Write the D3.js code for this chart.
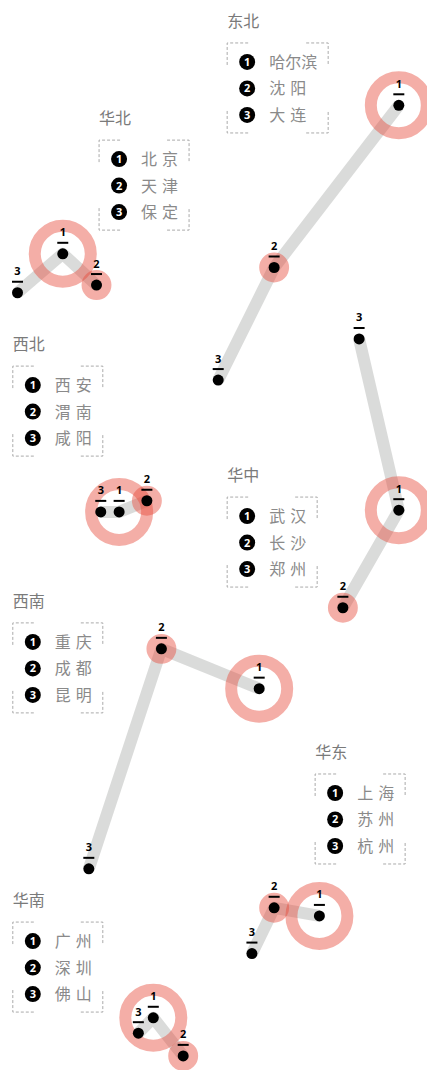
<!DOCTYPE html>
<html>
<head>
<meta charset="utf-8">
<script src="https://cdn.jsdelivr.net/npm/d3@7"></script>
<style>
html,body{margin:0;padding:0;background:#fff;}
svg{display:block;}
</style>
</head>
<body>
<div id="chart"></div>
<script>
// ---- data ----
const regions = ["东北","华北","西北","华中","西南","华东","华南"];
const cityNames = [
  ["哈尔滨","沈阳","大连"],
  ["北京","天津","保定"],
  ["西安","渭南","咸阳"],
  ["武汉","长沙","郑州"],
  ["重庆","成都","昆明"],
  ["上海","苏州","杭州"],
  ["广州","深圳","佛山"]
];
// positions of the three cities of each region (abstract units)
const cityX = [
  [93.4,64.2,51.1],
  [14.7,22.6,4.1],
  [27.9,34.4,23.6],
  [93.4,80.3,84.1],
  [60.7,37.8,20.8],
  [74.8,64.2,59.0],
  [35.9,42.9,32.4]
];
const cityY = [
  [24.6,62.5,88.8],
  [59.3,66.6,68.4],
  [119.6,117.0,119.6],
  [119.2,142.0,79.2],
  [160.9,151.6,203.0],
  [214.0,212.1,222.8],
  [237.8,246.7,241.4]
];
const cityScore = [
  [100,32,0],[100,32,0],[100,32,0],[100,32,0],[100,32,0],[100,32,0],[100,32,0]
];
const pathOrder = [[1,2,3],[3,1,2],[3,1,2],[3,1,2],[3,2,1],[3,2,1],[3,1,2]];
const rankLabels = ["1","2","3"];
// legend anchors (abstract units)
const legendX = [53.2,23.2,3.0,53.2,3.0,73.8,3.0];
const legendY = [6.3,29.0,81.8,112.4,141.8,177.1,211.7];

// ---- chart ----
const W = 427, H = 1070;
const x = d3.scaleLinear().domain([0,100]).range([0,427]);
const y = d3.scaleLinear().domain([0,250]).range([0,1070]);
const r = d3.scaleLinear().domain([0,100]).range([0,28]);

const svg = d3.select("#chart").append("svg").attr("width",W).attr("height",H);

const cjk = "'Noto Sans CJK SC','Noto Sans',sans-serif";
const num = "'Open Sans','Noto Sans',sans-serif";

const data = regions.map((name,i)=>({
  name, i,
  cities: cityNames[i].map((c,j)=>({name:c, rank:j+1, x:cityX[i][j], y:cityY[i][j], s:cityScore[i][j]}))
}));

// lines
const line = d3.line().x(d=>x(d.x)).y(d=>y(d.y));
svg.append("g").selectAll("path").data(data).join("path")
  .attr("d", d => line(pathOrder[d.i].map(k=>d.cities[k-1])))
  .attr("fill","none")
  .attr("stroke","#a6a9a6")
  .attr("stroke-opacity",0.42)
  .attr("stroke-width",12)
  .attr("stroke-linejoin","round")
  .attr("stroke-linecap","butt");

const allCities = data.flatMap(d=>d.cities);

// rings
svg.append("g").selectAll("circle").data(allCities.filter(c=>r(c.s)>0)).join("circle")
  .attr("cx",d=>x(d.x)).attr("cy",d=>y(d.y)).attr("r",d=>r(d.s))
  .attr("fill","none")
  .attr("stroke","rgb(231,76,60)")
  .attr("stroke-opacity",0.45)
  .attr("stroke-width",12);

// dots
svg.append("g").selectAll("circle").data(allCities).join("circle")
  .attr("cx",d=>x(d.x)).attr("cy",d=>y(d.y)).attr("r",5.5)
  .attr("fill","#000");

// rank labels
const lab = svg.append("g").selectAll("g").data(allCities).join("g")
  .attr("transform",d=>`translate(${x(d.x)},${y(d.y)})`);
lab.append("text").text(d=>rankLabels[d.rank-1])
  .attr("x",0).attr("y",-17.5)
  .attr("text-anchor","middle")
  .attr("font-family",num).attr("font-weight",700).attr("font-size",11)
  .attr("fill","#000");
lab.append("line").attr("x1",-5.5).attr("x2",5.5).attr("y1",-11).attr("y2",-11)
  .attr("stroke","#000").attr("stroke-width",2);

// legends
const leg = svg.append("g").selectAll("g").data(data).join("g")
  .attr("transform",d=>`translate(${x(legendX[d.i])},${y(legendY[d.i])})`);
leg.append("text").text(d=>d.name)
  .attr("x",0).attr("y",0)
  .attr("font-family",cjk).attr("font-size",16).attr("fill","#7a7a7a");

leg.each(function(d){
  const g = d3.select(this);
  const maxLen = d3.max(d.cities, c=>c.name.length);
  const textW = maxLen===3 ? 48 : 37;
  const bx0 = 0, bx1 = 42 + textW + 11, by0 = 16, by1 = 106;
  const L = 22;
  const segs = [
    [[bx0,by0+L],[bx0,by0],[bx0+L,by0]],
    [[bx1-L,by0],[bx1,by0],[bx1,by0+L]],
    [[bx0,by1-L],[bx0,by1],[bx0+L,by1]],
    [[bx1-L,by1],[bx1,by1],[bx1,by1-L]]
  ];
  g.selectAll("path.br").data(segs).join("path").attr("class","br")
    .attr("d",s=>d3.line()(s))
    .attr("fill","none").attr("stroke","#aaa").attr("stroke-width",1)
    .attr("stroke-dasharray","3,2");
  const rows = g.selectAll("g.row").data(d.cities).join("g").attr("class","row")
    .attr("transform",(c,j)=>`translate(0,${35 + j*26.5})`);
  rows.append("circle").attr("cx",20).attr("cy",0).attr("r",8).attr("fill","#000");
  rows.append("text").text(c=>rankLabels[c.rank-1])
    .attr("x",20).attr("y",4)
    .attr("text-anchor","middle")
    .attr("font-family",num).attr("font-weight",700).attr("font-size",11)
    .attr("fill","#fff");
  rows.each(function(c){
    const chars = Array.from(c.name);
    const step = chars.length===3 ? 16 : 21;
    d3.select(this).selectAll("text.ch").data(chars).join("text").attr("class","ch")
      .text(ch=>ch)
      .attr("x",(ch,k)=>42 + k*step).attr("y",6)
      .attr("font-family",cjk).attr("font-size",16).attr("fill","#8a8a8a");
  });
});
</script>
</body>
</html>
